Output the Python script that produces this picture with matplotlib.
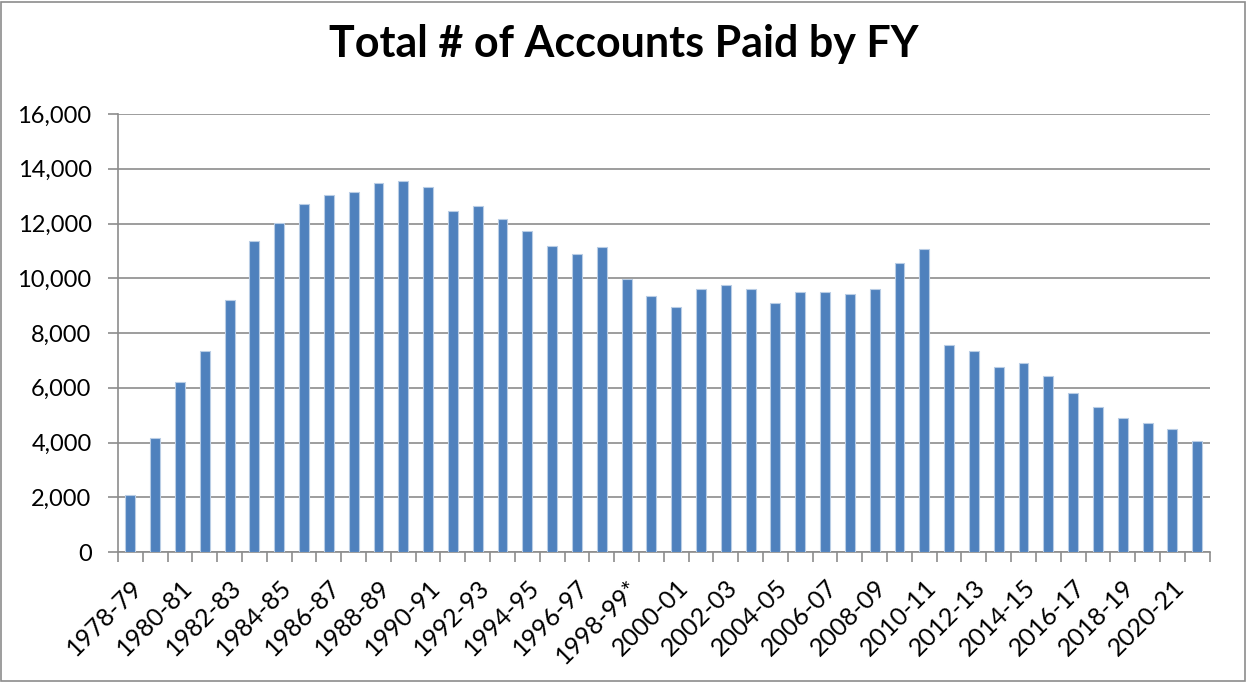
import numpy as np
import matplotlib.pyplot as plt
from matplotlib.patches import Rectangle
from matplotlib.ticker import FuncFormatter

years = [f"{y}-{str(y + 1)[-2:]}" for y in range(1978, 2022)]
years[20] = "1998-99*"
accounts = [2070, 4160, 6220, 7340, 9210, 11370, 12020, 12710, 13040, 13160,
            13480, 13550, 13350, 12450, 12650, 12170, 11710, 11180, 10870, 11160,
            9980, 9340, 8960, 9620, 9740, 9620, 9090, 9500, 9500, 9430,
            9610, 10540, 11070, 7570, 7330, 6770, 6900, 6440, 5820, 5280,
            4880, 4720, 4510, 4060]

plt.rcParams['font.family'] = ['Lato', 'DejaVu Sans']

fig = plt.figure(figsize=(12.47, 6.82), dpi=100)
ax = fig.add_axes([0.0946, 0.1906, 0.8754, 0.6422])

x = np.arange(len(accounts))
ax.bar(x, accounts, width=0.4, color='#4F81BD', edgecolor='#B9CDE5', linewidth=0.8, zorder=3)

ax.set_xlim(-0.5, len(accounts) - 0.5)
ax.set_ylim(0, 16000)
ax.set_yticks(np.arange(0, 16001, 2000))
ax.yaxis.set_major_formatter(FuncFormatter(lambda v, p: f"{int(v):,}"))
ax.grid(axis='y', color='#8C8C8C', linewidth=1.2, zorder=0)

ax.set_xticks(x[::2])
ax.set_xticklabels(years[::2], rotation=45, ha='right', rotation_mode='anchor')
ax.set_xticks(np.arange(-0.5, len(accounts), 1), minor=True)
ax.tick_params(axis='x', which='major', length=0, pad=17, labelsize=18)
ax.tick_params(axis='x', which='minor', length=7, color='#8C8C8C', width=1.2)
ax.tick_params(axis='y', length=7, color='#8C8C8C', width=1.2, labelsize=17, pad=12)

for s in ['top', 'right']:
    ax.spines[s].set_visible(False)
for s in ['left', 'bottom']:
    ax.spines[s].set_color('#8C8C8C')
    ax.spines[s].set_linewidth(1.2)

fig.suptitle("Total # of Accounts Paid by FY", fontsize=31, fontweight='bold', y=0.965)
fig.patches.append(Rectangle((0.001, 0.002), 0.997, 0.995, transform=fig.transFigure,
                             fill=False, edgecolor='#8C8C8C', linewidth=1.2))

plt.savefig("out.png")
